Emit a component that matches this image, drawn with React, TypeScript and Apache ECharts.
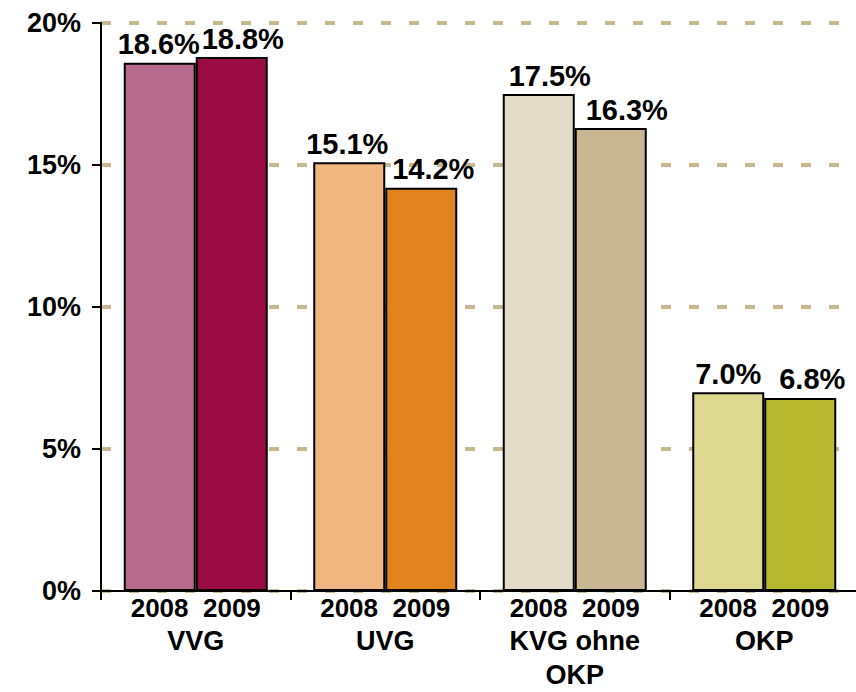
import React, { useEffect, useRef } from "react";
import * as echarts from "echarts";

const categories = ["VVG", "UVG", "KVG ohne\nOKP", "OKP"];
const years = ["2008", "2009"];
const values2008 = [18.6, 15.1, 17.5, 7.0];
const values2009 = [18.8, 14.2, 16.3, 6.8];
const colors2008 = ["#B76A8C", "#EFB77F", "#E3DBC7", "#DDDA8F"];
const colors2009 = ["#990B42", "#E18420", "#C9B692", "#B8B92E"];
const yTicks = [0, 5, 10, 15, 20];
// horizontal nudges of the value labels (style only)
const labelShift2008 = [-1, -2, 11, 0];
const labelShift2009 = [11, 12, 16, 12];

const FONT = "'Liberation Sans', Arial, Helvetica, sans-serif";

export default function App() {
  const ref = useRef<HTMLDivElement>(null);
  useEffect(() => {
    if (!ref.current) return;
    const chart = echarts.init(ref.current, undefined, { renderer: "svg" });
    const mkSeries = (name: string, vals: number[], cols: string[], shift: number[]) => ({
      type: "bar",
      name,
      barWidth: 72,
      barGap: "0%",
      data: vals.map((v, i) => ({
        value: v,
        itemStyle: { color: cols[i], borderColor: "#000", borderWidth: 2 },
        label: { offset: [shift[i], 0] },
      })),
      label: {
        show: true,
        position: "top",
        distance: 4,
        formatter: (p: any) => p.value.toFixed(1) + "%",
        color: "#000",
        fontWeight: "bold",
        fontSize: 29,
        fontFamily: FONT,
      },
    });
    chart.setOption({
      animation: false,
      backgroundColor: "#fff",
      grid: {
        left: 101,
        top: 23,
        right: -3,
        bottom: 101,
        containLabel: false,
        outerBoundsMode: "none",
      },
      xAxis: {
        type: "category",
        data: categories,
        axisLine: { show: true, lineStyle: { color: "#000", width: 2 } },
        axisTick: { show: true, length: 9, inside: false, lineStyle: { color: "#000", width: 2 } },
        axisLabel: {
          margin: 0,
          interval: 0,
          color: "#000",
          fontFamily: FONT,
          fontWeight: "bold",
          formatter: (v: string) => {
            const parts = v.split("\n");
            return (
              "{y|" + years[0] + "  " + years[1] + "}\n" +
              parts.map((s) => "{n|" + s + "}").join("\n")
            );
          },
          rich: {
            y: { fontSize: 26, fontWeight: "bold", fontFamily: FONT, color: "#000", lineHeight: 33 },
            n: { fontSize: 27, fontWeight: "bold", fontFamily: FONT, color: "#000", lineHeight: 34 },
          },
        },
        splitLine: { show: false },
      },
      yAxis: {
        type: "value",
        min: yTicks[0],
        max: yTicks[yTicks.length - 1],
        interval: 5,
        axisLine: { show: true, lineStyle: { color: "#000", width: 2 } },
        axisTick: { show: true, length: 9, lineStyle: { color: "#000", width: 2 } },
        axisLabel: {
          margin: 20,
          color: "#000",
          fontFamily: FONT,
          fontWeight: "bold",
          fontSize: 27,
          formatter: (v: number) => v + "%",
        },
        splitLine: {
          show: true,
          lineStyle: { color: "#C9B792", width: 4, type: [10, 18] },
        },
      },
      series: [
        mkSeries(years[0], values2008, colors2008, labelShift2008),
        mkSeries(years[1], values2009, colors2009, labelShift2009),
      ],
    });
    return () => chart.dispose();
  }, []);
  return (
    <div
      ref={ref}
      style={{ position: "fixed", left: 0, top: 0, width: 856, height: 692, background: "#fff" }}
    />
  );
}
